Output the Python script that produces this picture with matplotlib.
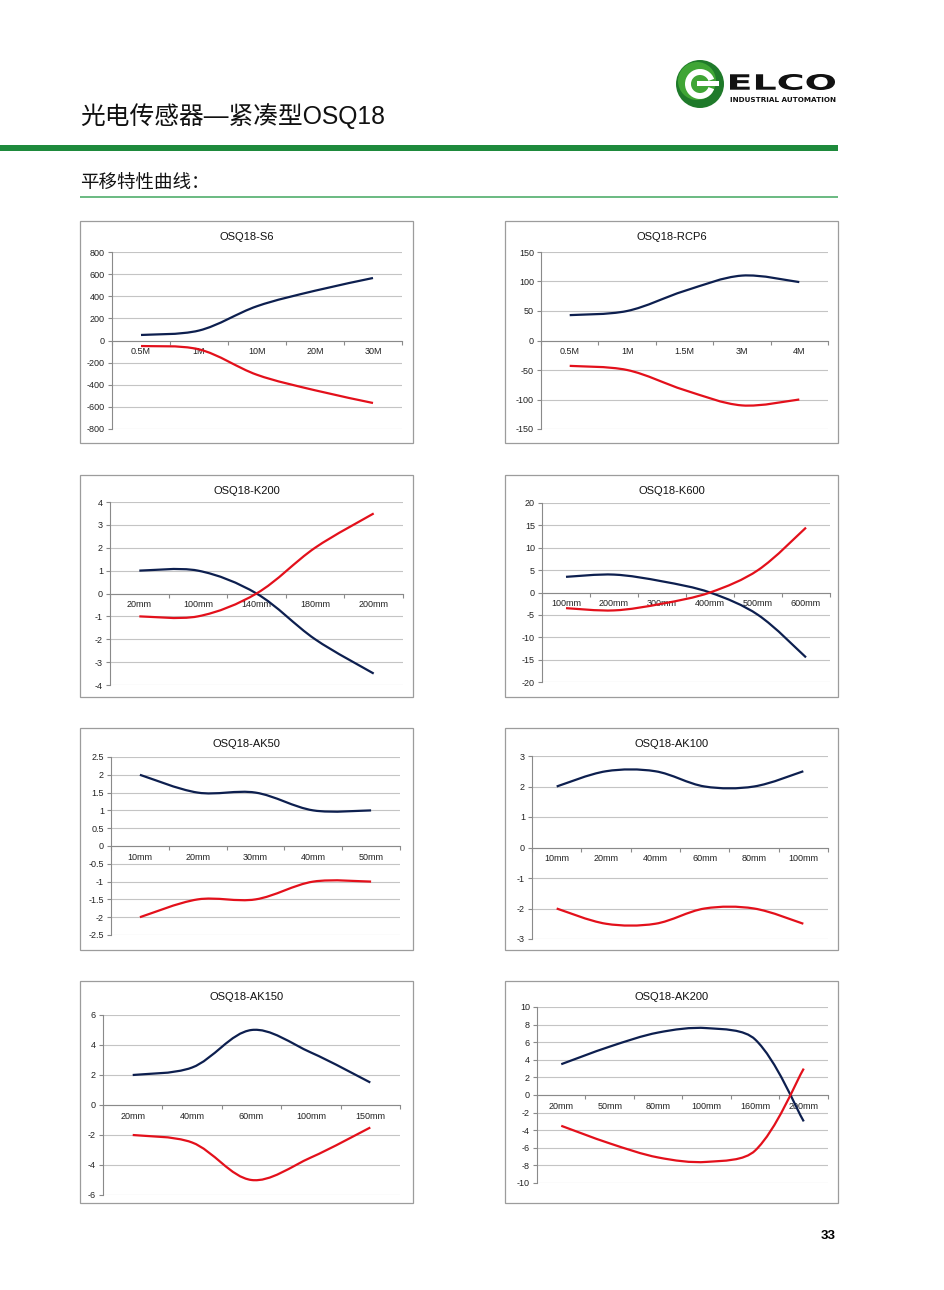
import numpy as np
import matplotlib
matplotlib.use("Agg")
import matplotlib.pyplot as plt
from matplotlib.path import Path
from matplotlib.patches import PathPatch, Rectangle, Circle, Wedge
from matplotlib.textpath import TextPath
from matplotlib.font_manager import FontProperties
from matplotlib.transforms import Affine2D

W, H = 945, 1290
NAVY = "#0d1f4f"
RED = "#e3101b"
GREEN = "#1e8a3c"

# chart data
s6_cats = ["0.5M", "1M", "10M", "20M", "30M"]
s6_blue = [50, 90, 310, 450, 565]
s6_red = [-50, -80, -310, -450, -565]

rcp6_cats = ["0.5M", "1M", "1.5M", "3M", "4M"]
rcp6_blue = [43, 50, 84, 110, 99]
rcp6_red = [-43, -50, -84, -110, -100]

k200_cats = ["20mm", "100mm", "140mm", "180mm", "200mm"]
k200_blue = [1, 1, 0, -2, -3.5]
k200_red = [-1, -1, 0, 2, 3.5]

k600_cats = ["100mm", "200mm", "300mm", "400mm", "500mm", "600mm"]
k600_blue = [3.5, 4, 2.5, 0, -5, -14.5]
k600_red = [-3.5, -4, -2.5, 0, 5, 14.5]

ak50_cats = ["10mm", "20mm", "30mm", "40mm", "50mm"]
ak50_blue = [2, 1.5, 1.5, 1, 1]
ak50_red = [-2, -1.5, -1.5, -1, -1]

ak100_cats = ["10mm", "20mm", "40mm", "60mm", "80mm", "100mm"]
ak100_blue = [2, 2.5, 2.5, 2, 2, 2.5]
ak100_red = [-2, -2.5, -2.5, -2, -2, -2.5]

ak150_cats = ["20mm", "40mm", "60mm", "100mm", "150mm"]
ak150_blue = [2, 2.5, 5, 3.5, 1.5]
ak150_red = [-2, -2.5, -5, -3.5, -1.5]

ak200_cats = ["20mm", "50mm", "80mm", "100mm", "160mm", "200mm"]
ak200_blue = [3.5, 5.5, 7.1, 7.6, 6.3, -3]
ak200_red = [-3.5, -5.5, -7.1, -7.6, -6.3, 3]

# title, cats, blue, red, (ymin, ymax, step), box px, plot area px
charts = [
    ("OSQ18-S6", s6_cats, s6_blue, s6_red, (-800, 800, 200), (80, 221, 413, 443), (112, 252, 402, 429)),
    ("OSQ18-RCP6", rcp6_cats, rcp6_blue, rcp6_red, (-150, 150, 50), (505, 221, 838, 443), (541, 252, 828, 429)),
    ("OSQ18-K200", k200_cats, k200_blue, k200_red, (-4, 4, 1), (80, 475, 413, 697), (110, 502, 403, 685)),
    ("OSQ18-K600", k600_cats, k600_blue, k600_red, (-20, 20, 5), (505, 475, 838, 697), (542, 503, 830, 682)),
    ("OSQ18-AK50", ak50_cats, ak50_blue, ak50_red, (-2.5, 2.5, 0.5), (80, 728, 413, 950), (111, 757, 400, 935)),
    ("OSQ18-AK100", ak100_cats, ak100_blue, ak100_red, (-3, 3, 1), (505, 728, 838, 950), (532, 756, 828, 939)),
    ("OSQ18-AK150", ak150_cats, ak150_blue, ak150_red, (-6, 6, 2), (80, 981, 413, 1203), (103, 1015, 400, 1195)),
    ("OSQ18-AK200", ak200_cats, ak200_blue, ak200_red, (-10, 10, 2), (505, 981, 838, 1203), (537, 1007, 828, 1183)),
]


def frac(l, t, r, b):
    return [l / W, 1 - b / H, (r - l) / W, (b - t) / H]


def smooth_path(xs, ys, sx, sy):
    # smoothed line like excel: bezier segments, tangents weighted by segment length on screen
    pts = np.column_stack([xs, ys]).astype(float)
    scr = pts * [sx, sy]
    n = len(pts)

    def d(a, b):
        return max(np.hypot(*(scr[b] - scr[a])), 1e-9)

    verts = [pts[0]]
    codes = [Path.MOVETO]
    for i in range(n - 1):
        i0, i3 = max(i - 1, 0), min(i + 2, n - 1)
        p1, p2 = pts[i], pts[i + 1]
        d12 = d(i, i + 1)
        f1 = d12 / (d(i0, i) + d12) / 3 if i0 != i else 1 / 6
        f2 = d12 / (d12 + d(i + 1, i3)) / 3 if i3 != i + 1 else 1 / 6
        c1 = p1 + (p2 - pts[i0]) * f1
        c2 = p2 - (pts[i3] - p1) * f2
        verts += [c1, c2, p2]
        codes += [Path.CURVE4] * 3
    return Path(verts, codes)


fig = plt.figure(figsize=(W / 100, H / 100), dpi=100)
cjk = ["Liberation Sans", "Noto Sans CJK SC"]

# header
fig.text(80 / W, 1 - 116 / H, "光电传感器—紧凑型OSQ18", family=cjk, fontsize=17.8,
         color="#111111", va="center", ha="left")
fig.add_artist(Rectangle((0, 1 - 151 / H), 838 / W, 6 / H, transform=fig.transFigure,
                         color=GREEN, lw=0))
fig.text(80 / W, 1 - 183 / H, "平移特性曲线：", family=["Noto Sans CJK SC"], fontsize=13.3,
         color="#111111", va="center", ha="left")
fig.add_artist(Rectangle((80 / W, 1 - 198 / H), 758 / W, 1.6 / H, transform=fig.transFigure,
                         color="#6dbb84", lw=0))

# logo
px = Affine2D().scale(1 / W, 1 / H) + fig.transFigure
fig.add_artist(Circle((700, H - 84), 24, transform=px, color="#1f7a2a", lw=0))
fig.add_artist(Circle((697, H - 81), 19, transform=px, color="#3fa535", lw=0))
fig.add_artist(Wedge((700, H - 84), 15, 20, 340, width=6, transform=px, color="white", lw=0))
fig.add_artist(Rectangle((697, H - 86), 22, 5, transform=px, color="white", lw=0))
fp = FontProperties(family="DejaVu Sans", weight="bold")
tp = TextPath((0, 0), "ELCO", prop=fp, size=10)
bb = tp.get_extents()
tr = Affine2D().translate(-bb.x0, -bb.y0).scale(105 / bb.width, 16 / bb.height).translate(730, H - 90)
fig.add_artist(PathPatch(tr.transform_path(tp), transform=px, color="#111111", lw=0))
fig.text(783 / W, 1 - 99.5 / H, "INDUSTRIAL AUTOMATION", fontsize=5.2, weight="bold",
         family="DejaVu Sans", ha="center", va="center", color="#111111")

fig.text(828 / W, 1 - 1236 / H, "33", fontsize=9.5, weight="bold", ha="center", va="center",
         family="Liberation Sans")

for title, cats, blue, red, (ymin, ymax, step), box, area in charts:
    l, t, r, b = box
    fig.add_artist(Rectangle((l / W, 1 - b / H), (r - l) / W, (b - t) / H,
                             transform=fig.transFigure, fill=False, ec="#9c9c9c", lw=0.9))
    fig.text((l + r) / 2 / W, 1 - (t + 16) / H, title, ha="center", va="center",
             fontsize=8, family="Liberation Sans", color="#111111")

    ax = fig.add_axes(frac(*area))
    n = len(cats)
    ax.set_xlim(-0.5, n - 0.5)
    ax.set_ylim(ymin, ymax)
    yt = np.arange(ymin, ymax + step / 2, step)
    ax.set_yticks(yt)
    ax.set_yticklabels([("%g" % v) for v in yt])
    ax.set_xticks(range(n))
    ax.set_xticklabels(cats)
    ax.set_xticks(np.arange(-0.5, n, 1.0), minor=True)
    ax.yaxis.grid(True, color="#c4c4c4", lw=0.8)
    ax.set_axisbelow(True)
    for s in ("top", "right"):
        ax.spines[s].set_visible(False)
    ax.spines["bottom"].set_position(("data", 0))
    ax.spines["bottom"].set_color("#8a8a8a")
    ax.spines["left"].set_color("#8a8a8a")
    ax.spines["bottom"].set_linewidth(0.8)
    ax.spines["left"].set_linewidth(0.8)
    ax.tick_params(axis="x", which="major", length=0, pad=5, labelsize=6.5, colors="#222222")
    ax.tick_params(axis="x", which="minor", length=3, color="#8a8a8a", width=0.8)
    ax.tick_params(axis="y", length=3, color="#8a8a8a", width=0.8, labelsize=6.5,
                   labelcolor="#222222", pad=2)
    for lab in ax.get_xticklabels() + ax.get_yticklabels():
        lab.set_family("Liberation Sans")

    x = np.arange(n)
    sx = (area[2] - area[0]) / n
    sy = (area[3] - area[1]) / (ymax - ymin)
    ax.add_patch(PathPatch(smooth_path(x, blue, sx, sy), fill=False, ec=NAVY, lw=1.6, zorder=3))
    ax.add_patch(PathPatch(smooth_path(x, red, sx, sy), fill=False, ec=RED, lw=1.6, zorder=3))

fig.savefig("out.png", dpi=100)
